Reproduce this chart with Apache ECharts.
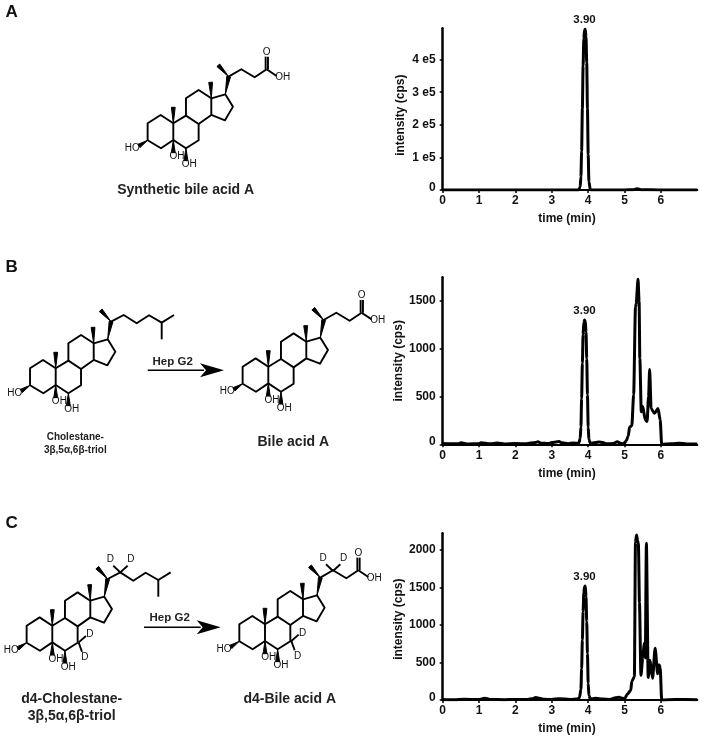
<!DOCTYPE html>
<html>
<head>
<meta charset="utf-8">
<title>Bile acid chromatograms</title>
<script src="https://cdn.jsdelivr.net/npm/echarts@6/dist/echarts.min.js"></script>
<style>
  html, body { margin: 0; padding: 0; background: #fff; }
  #main { width: 704px; height: 739px; }
</style>
</head>
<body>
<div id="main"></div>
<script>
// chromatogram values
const timesA = [0, 1, 2, 3, 3.74, 3.78, 3.8, 3.82, 3.84, 3.86, 3.88, 3.9, 3.92, 3.94, 3.96, 3.98, 4, 4.02, 4.06, 5, 5.25, 5.35, 5.45, 6, 7];
const valuesA = [0, 0, 0, 0, 0, 10000, 40000, 120000, 250000, 380000, 465000, 490000, 493000, 470000, 390000, 250000, 110000, 25000, 0, 0, 1000, 3500, 1000, 0, 0];

const timesB = [0, 0.2, 0.45, 0.5, 0.7, 1, 1.05, 1.3, 1.5, 1.7, 2, 2.3, 2.55, 2.62, 2.7, 2.9, 3, 3.15, 3.2, 3.28, 3.45, 3.6, 3.74, 3.78, 3.8, 3.82, 3.84, 3.86, 3.88, 3.9, 3.92, 3.94, 3.96, 3.98, 4, 4.02, 4.06, 4.2, 4.3, 4.4, 4.5, 4.7, 4.8, 4.87, 4.95, 5, 5.05, 5.1, 5.14, 5.2, 5.25, 5.3, 5.32, 5.37, 5.4, 5.42, 5.46, 5.5, 5.57, 5.62, 5.66, 5.69, 5.73, 5.82, 5.92, 5.98, 6.02, 6.3, 6.5, 6.7, 7];
const valuesB = [8, 5, 6, 16, 4, 7, 16, 5, 14, 4, 8, 6, 20, 26, 12, 8, 18, 26, 30, 15, 6, 14, 10, 60, 180, 480, 850, 1150, 1280, 1303, 1295, 1180, 900, 520, 180, 50, 12, 18, 24, 20, 6, 8, 28, 14, 5, 15, 40, 85, 180, 195, 520, 1440, 1475, 1730, 1500, 900, 340, 395, 255, 240, 500, 785, 375, 325, 375, 255, 0, 6, 12, 4, 2];

const timesC = [0, 0.3, 0.6, 1, 1.15, 1.3, 1.7, 2, 2.3, 2.5, 2.55, 2.62, 2.8, 3, 3.2, 3.5, 3.7, 3.76, 3.8, 3.82, 3.84, 3.86, 3.88, 3.9, 3.92, 3.94, 3.96, 3.98, 4, 4.02, 4.06, 4.2, 4.4, 4.6, 4.75, 4.85, 4.95, 5, 5.08, 5.17, 5.2, 5.27, 5.3, 5.33, 5.36, 5.38, 5.41, 5.45, 5.5, 5.54, 5.57, 5.6, 5.65, 5.7, 5.77, 5.84, 5.91, 5.95, 5.98, 6.02, 6.4, 7];
const valuesC = [8, 4, 10, 6, 24, 8, 4, 8, 5, 20, 34, 28, 10, 6, 18, 6, 14, 30, 140, 420, 800, 1180, 1430, 1510, 1520, 1380, 1050, 620, 220, 60, 15, 22, 12, 8, 30, 36, 22, 18, 80, 130, 250, 310, 2100, 2200, 2120, 2090, 1300, 330, 560, 755, 560, 2090, 300, 530, 290, 690, 350, 470, 430, 0, 6, 4];

const xTicks = [0, 1, 2, 3, 4, 5, 6];
const yTicksA = [0, 100000, 200000, 300000, 400000];
const yTicksB = [0, 500, 1000, 1500];
const yTicksC = [0, 500, 1000, 1500, 2000];
const peakLabel = '3.90';
const peakTime = 3.9;
const panelLetters = ['A', 'B', 'C'];

const ink = '#111';
const font = '"Liberation Sans", Arial, sans-serif';

function pairs(xs, ys) {
  return xs.map((x, i) => [x, ys[i]]);
}

// the zero label sits a little above its tick in the original
function zeroRaised(v, text) {
  return v === 0 ? '{z|0}' : text;
}

function formatA(v) {
  return zeroRaised(v, (v / 100000) + ' e5');
}

function formatPlain(v) {
  return zeroRaised(v, String(v));
}

// one chromatogram panel: grid, axes and series share an index
const panels = [
  { top: 28.3, height: 161.7, max: 496000, ticks: yTicksA, fmt: formatA, xs: timesA, ys: valuesA, peak: 493000, shift: 12 },
  { top: 277.3, height: 167, max: 1750, ticks: yTicksB, fmt: formatPlain, xs: timesB, ys: valuesB, peak: 1303, shift: 0 },
  { top: 533.3, height: 166.7, max: 2222, ticks: yTicksC, fmt: formatPlain, xs: timesC, ys: valuesC, peak: 1520, shift: 5 }
];

const grids = panels.map(p => ({ left: 442.7, width: 254.6, top: p.top, height: p.height }));

const xAxes = panels.map((p, i) => ({
  type: 'value',
  gridIndex: i,
  min: 0,
  max: 7,
  name: 'time (min)',
  nameLocation: 'middle',
  nameGap: 23,
  nameTextStyle: { color: ink, fontFamily: font, fontWeight: 'bold', fontSize: 12, padding: [0, 6, 0, 0] },
  splitLine: { show: false },
  axisLine: { lineStyle: { color: '#000', width: 2 } },
  axisTick: { length: 3, lineStyle: { color: '#000', width: 1.5 }, customValues: xTicks },
  axisLabel: { color: ink, fontFamily: font, fontWeight: 'bold', fontSize: 12, margin: 5, customValues: xTicks }
}));

const yAxes = panels.map((p, i) => ({
  type: 'value',
  gridIndex: i,
  min: 0,
  max: p.max,
  name: 'intensity (cps)',
  nameLocation: 'middle',
  nameGap: i === 0 ? 36 : 37,
  nameTextStyle: { color: ink, fontFamily: font, fontWeight: 'bold', fontSize: 12, padding: [0, p.shift, 0, 0] },
  splitLine: { show: false },
  axisLine: { show: true, onZero: false, lineStyle: { color: '#000', width: 2.5 } },
  axisTick: { show: true, length: 3, lineStyle: { color: '#000', width: 1.5 }, customValues: p.ticks },
  axisLabel: {
    color: ink, fontFamily: font, fontWeight: 'bold', fontSize: 12, margin: 7,
    customValues: p.ticks,
    formatter: p.fmt,
    rich: { z: { color: ink, fontFamily: font, fontWeight: 'bold', fontSize: 12, padding: [0, 0, 5, 0] } }
  }
}));

const seriesList = panels.map((p, i) => ({
  type: 'line',
  xAxisIndex: i,
  yAxisIndex: i,
  data: pairs(p.xs, p.ys),
  showSymbol: false,
  smooth: 0.25,
  smoothMonotone: 'x',
  lineStyle: { color: '#000', width: 3 },
  markPoint: {
    symbol: 'circle',
    symbolSize: 0,
    silent: true,
    label: {
      show: true, position: 'top', distance: 3, formatter: peakLabel,
      color: ink, fontFamily: font, fontWeight: 'bold', fontSize: 11.5
    },
    data: [{ coord: [peakTime, p.peak] }]
  }
}));

// molecule sketches, offsets in 1/3 px from the C10 ring junction
const steroidCore = [
  [[0, 0], [-38, -25], [-77, 0], [-77, 51], [-37, 75], [0, 50], [0, 0]],
  [[0, 0], [38, -23], [76, 2], [76, 51], [38, 75], [0, 50]],
  [[38, -23], [38, -75], [76, -100], [114, -75], [114, -25], [76, 2]],
  [[114, -75], [156, -87], [179, -50], [155, -9], [114, -25]]
];
const coreWedges = [
  [[0, 0], [0, -48]],
  [[114, -75], [112, -123]],
  [[-77, 51], [-103, 68]],
  [[0, 50], [0, 88]],
  [[38, 75], [38, 112]],
  [[156, -87], [166, -140]],
  [[166, -140], [135, -174]]
];
const coreLabels = [['HO', -123, 74], ['OH', 11, 100], ['OH', 48, 124]];
const acidChain = [[[166, -140], [204, -162], [244, -138], [280, -162]], [[280, -162], [310, -142]]];
const acidDouble = [[[277, -162], [277, -200]], [[284, -162], [284, -200]]];
const acidLabels = [['O', 280, -214], ['OH', 328, -139]];
const cholChain = [[[166, -140], [204, -160], [243, -135], [280, -159], [318, -137], [355, -160]], [[318, -137], [318, -87]]];
const d2Side = [[[204, -160], [183, -180]], [[204, -160], [226, -180]]];
const d2SideLabels = [['D', 174, -198], ['D', 236, -198]];
const d2Ring = [[[79, 50], [101, 31]], [[79, 50], [89, 78]]];
const d2RingLabels = [['D', 113, 26], ['D', 98, 95]];

function molecule(ox, oy, paths, wedges, labels) {
  const place = pt => [ox + pt[0] / 3, oy + pt[1] / 3];
  const out = [];
  paths.forEach(path => {
    out.push({
      type: 'polyline',
      shape: { points: path.map(place) },
      style: { stroke: '#000', lineWidth: 1.9, fill: null, lineJoin: 'round' },
      silent: true
    });
  });
  wedges.forEach(w => {
    const a = place(w[0]);
    const b = place(w[1]);
    const len = Math.hypot(b[0] - a[0], b[1] - a[1]);
    const nx = -(b[1] - a[1]) / len * 1.9;
    const ny = (b[0] - a[0]) / len * 1.9;
    out.push({
      type: 'polygon',
      shape: { points: [a, [b[0] + nx, b[1] + ny], [b[0] - nx, b[1] - ny]] },
      style: { fill: '#000', stroke: '#000', lineWidth: 1 },
      silent: true
    });
  });
  labels.forEach(l => {
    const p = place([l[1], l[2]]);
    out.push({
      type: 'text', x: p[0], y: p[1], silent: true,
      style: { text: l[0], fill: ink, font: '10px ' + font, align: 'center', verticalAlign: 'middle' },
      z: 5
    });
  });
  return out;
}

function caption(text, x, y, size, color) {
  return {
    type: 'text', x: x, y: y, silent: true,
    style: { text: text, fill: color || '#222', font: 'bold ' + size + 'px ' + font, align: 'center', verticalAlign: 'middle' }
  };
}

function reaction(x1, x2, y) {
  return [
    { type: 'line', shape: { x1: x1, y1: y, x2: x2 - 20, y2: y }, style: { stroke: '#000', lineWidth: 1.6 }, silent: true },
    { type: 'polygon', shape: { points: [[x2 - 24, y - 7], [x2, y], [x2 - 24, y + 7], [x2 - 18, y]] }, style: { fill: '#000' }, silent: true }
  ];
}

const acidPaths = steroidCore.concat(acidChain, acidDouble);
const cholPaths = steroidCore.concat(cholChain);

const drawings = [].concat(
  molecule(173.3, 123.3, acidPaths, coreWedges, coreLabels.concat(acidLabels)),
  molecule(268.3, 366.7, acidPaths, coreWedges, coreLabels.concat(acidLabels)),
  molecule(55.7, 368.3, cholPaths, coreWedges, coreLabels),
  molecule(52.3, 625.7, cholPaths.concat(d2Side, d2Ring), coreWedges, coreLabels.concat(d2SideLabels, d2RingLabels)),
  molecule(265, 624.3, acidPaths.concat(d2Side, d2Ring), coreWedges, coreLabels.concat(acidLabels, d2SideLabels, d2RingLabels)),
  reaction(147.7, 224, 370.3),
  reaction(144, 220.7, 627.3),
  [
    caption(panelLetters[0], 11.7, 12.7, 17, ink),
    caption(panelLetters[1], 11.7, 267.7, 17, ink),
    caption(panelLetters[2], 11.7, 523.3, 17, ink),
    caption('Synthetic bile acid A', 185.7, 190.3, 14),
    caption('Hep G2', 172.7, 361.7, 11.5),
    caption('Hep G2', 169.7, 618.3, 11.5),
    caption('Cholestane-', 75.3, 437.7, 10),
    caption('3β,5α,6β-triol', 75.3, 450.7, 10),
    caption('Bile acid A', 293.3, 441.7, 14),
    caption('d4-Cholestane-', 71.7, 699, 14),
    caption('3β,5α,6β-triol', 71.7, 716, 14),
    caption('d4-Bile acid A', 289.7, 699, 14)
  ]
);

const chart = echarts.init(document.getElementById('main'));
chart.setOption({
  backgroundColor: '#fff',
  animation: false,
  grid: grids,
  xAxis: xAxes,
  yAxis: yAxes,
  series: seriesList,
  graphic: drawings
});
</script>
</body>
</html>
